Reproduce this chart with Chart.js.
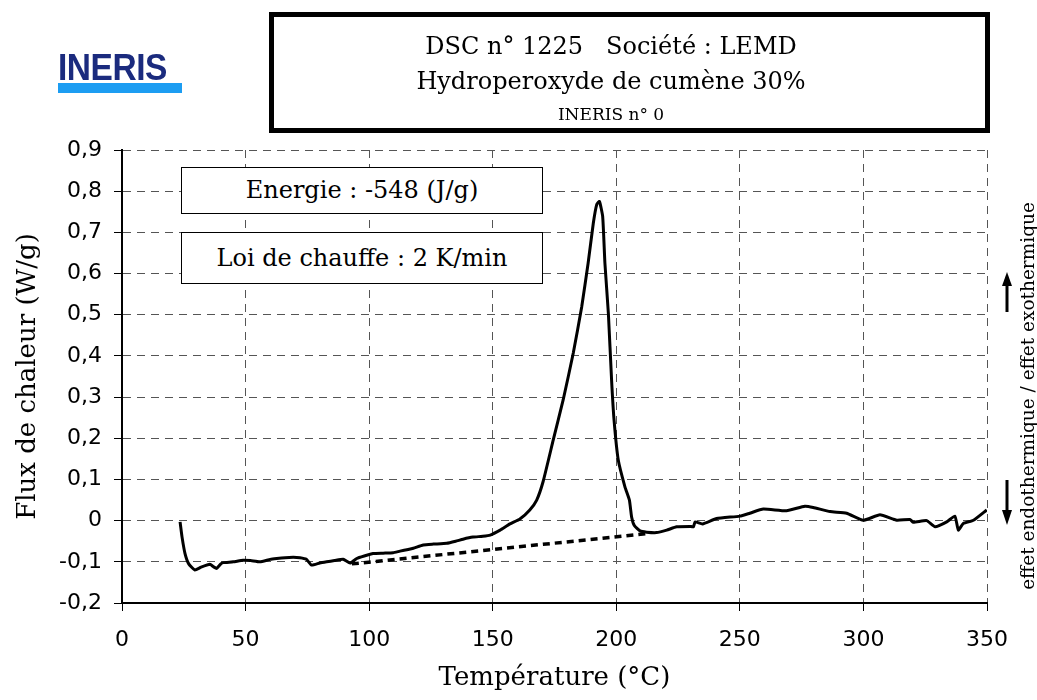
<!DOCTYPE html>
<html lang="fr">
<head>
<meta charset="utf-8">
<title>DSC n° 1225</title>
<script src="https://cdn.jsdelivr.net/npm/chart.js@4"></script>
<style>
  body { margin: 0; background: #fff; }
  #wrap { position: relative; width: 1037px; height: 700px; font-family: "DejaVu Serif", serif; color: #000; }
  #graphe { position: absolute; left: 0; top: 0; }
  .logo { position: absolute; left: 58px; top: 52px; width: 124px; }
  .logo span { display: block; font-family: "Liberation Sans", Arial, sans-serif; font-weight: bold; font-size: 36px; line-height: 31px; color: #1b2b7e; letter-spacing: -0.5px; transform: scaleX(0.93); transform-origin: left; }
  .logo div { height: 10px; background: #1c9df2; }
  .titre { position: absolute; left: 269px; top: 12px; width: 711px; height: 111px; border: 5px solid #000; }
  .titre p { position: absolute; left: 0; width: 674px; margin: 0; text-align: center; white-space: pre; line-height: 28px; }
  .boite { position: absolute; left: 181px; width: 360px; border: 1.5px solid #000; background: #fff; text-align: center; font-size: 24px; }
  .effet { position: absolute; left: 1027px; top: 396px; transform: translate(-50%, -50%) rotate(-90deg); white-space: nowrap; font-size: 18.5px; }
  svg { position: absolute; left: 0; top: 0; }
</style>
</head>
<body>
<div id="wrap">
  <canvas id="graphe" width="1037" height="700"></canvas>
  <div class="logo"><span>INERIS</span><div></div></div>
  <div class="titre">
    <p style="top:15px;font-size:24px;">DSC n° 1225   Société : LEMD</p>
    <p style="top:50px;font-size:24px;">Hydroperoxyde de cumène 30%</p>
    <p style="top:83px;font-size:17px;">INERIS n° 0</p>
  </div>
  <div class="boite" style="top:167px;height:45px;line-height:45px;">Energie : -548 (J/g)</div>
  <div class="boite" style="top:232px;height:50px;line-height:50px;">Loi de chauffe : 2 K/min</div>
  <div class="effet">effet endothermique / effet exothermique</div>
  <svg width="1037" height="700">
    <line x1="1007" y1="312" x2="1007" y2="284" stroke="#000" stroke-width="3"/>
    <polygon points="1002,286 1012,286 1007,272" fill="#000"/>
    <line x1="1007" y1="480" x2="1007" y2="512" stroke="#000" stroke-width="3"/>
    <polygon points="1002,510 1012,510 1007,525" fill="#000"/>
  </svg>
</div>
<script>
const temperature = [23.5, 24.3, 25.5, 27, 29.5, 32, 35.6, 37, 38.3, 40, 41, 45, 49, 52, 55.8, 60, 62.6, 66, 69.3, 72,
  74.6, 76.7, 80, 82.8, 86, 89.5, 92.3, 95, 98, 101.6, 105.7, 109.7, 112.5, 115.8, 117.9, 121.9, 126, 131.4, 135, 138,
  142, 146, 149, 153, 157, 161, 165, 167.8, 170.4, 174.5, 178.5, 182.6, 186, 188.6, 190.7, 192.1, 193.2, 194.5,
  195.4, 196.8, 198.1, 199.1, 200.8, 203.5, 205.3, 206.2, 207.3, 209.6, 212.3, 216.3, 220.4, 224.4, 229.8, 231.2, 231.9, 234.9, 240.6, 250,
  254, 259.5, 268.9, 276.3, 279.7, 286.5, 293.2, 299.9, 306.7, 313.5, 318.8, 320.2, 325.6, 329, 333.7, 337, 338.4, 340.4,
  344.5, 349.9];
const flux = [-0.003, -0.04, -0.08, -0.105, -0.12, -0.113, -0.106, -0.112, -0.116, -0.105, -0.102, -0.1, -0.096, -0.097, -0.1, -0.094, -0.092, -0.09, -0.089, -0.09,
  -0.094, -0.108, -0.103, -0.1, -0.097, -0.094, -0.103, -0.092, -0.086, -0.08, -0.079, -0.078, -0.074, -0.07, -0.067, -0.059, -0.057, -0.055, -0.05, -0.045,
  -0.04, -0.038, -0.035, -0.023, -0.008, 0.004, 0.026, 0.05, 0.095, 0.196, 0.293, 0.407, 0.519, 0.625, 0.722, 0.768, 0.775, 0.738,
  0.625, 0.503, 0.341, 0.244, 0.147, 0.082, 0.05, 0.009, -0.012, -0.025, -0.028, -0.029, -0.023, -0.015, -0.014, -0.015, -0.003, -0.008, 0.005, 0.011,
  0.018, 0.028, 0.024, 0.035, 0.032, 0.022, 0.018, 0.001, 0.014, 0.001, 0.003, -0.004, 0, -0.015, -0.003, 0.011, -0.023, -0.007,
  0.001, 0.026];

// ligne de base de l'intégration
const baseT = [93, 212];
const baseFlux = [-0.105, -0.032];

const ticksFlux = [-0.2, -0.1, 0, 0.1, 0.2, 0.3, 0.4, 0.5, 0.6, 0.7, 0.8, 0.9];

const police = '"DejaVu Serif", serif';
const policeTicks = '"DejaVu Sans", sans-serif';

function points(xs, ys) {
    return xs.map((x, i) => ({ x: x, y: ys[i] }));
}

const ctx = document.getElementById('graphe').getContext('2d');

new Chart(ctx, {
    type: 'scatter',
    data: {
        datasets: [{
            label: 'Flux',
            data: points(temperature, flux),
            showLine: true,
            borderColor: '#000',
            borderWidth: 3,
            pointRadius: 0,
            tension: 0.15
        }, {
            label: 'Ligne de base',
            data: points(baseT, baseFlux),
            showLine: true,
            borderColor: '#000',
            borderWidth: 3.5,
            borderDash: [7, 5],
            pointRadius: 0
        }]
    },
    options: {
        responsive: false,
        animation: false,
        layout: { padding: { top: 150, right: 50, left: 0, bottom: 0 } },
        plugins: {
            legend: { display: false },
            tooltip: { enabled: false }
        },
        scales: {
            x: {
                type: 'linear',
                min: 0,
                max: 350,
                afterFit: (s) => { s.height = 97; },
                ticks: {
                    stepSize: 50,
                    color: '#000',
                    padding: 16,
                    font: { family: policeTicks, size: 22 }
                },
                grid: { color: '#555', tickColor: '#000', tickLength: 8 },
                border: { display: true, color: '#000', width: 2, dash: [8, 6] },
                title: {
                    display: true,
                    text: 'Température (°C)',
                    color: '#000',
                    padding: { top: 0, bottom: 6 },
                    font: { family: police, size: 26 }
                }
            },
            y: {
                min: -0.2,
                max: 0.9,
                afterFit: (s) => { s.width = 122; },
                afterBuildTicks: (s) => { s.ticks = ticksFlux.map(v => ({ value: v })); },
                ticks: {
                    color: '#000',
                    padding: 12,
                    font: { family: policeTicks, size: 22 },
                    callback: (v) => Math.abs(v) < 1e-9 ? '0' : v.toFixed(1).replace('.', ',')
                },
                grid: { color: '#555', tickColor: '#000', tickLength: 8 },
                border: { display: true, color: '#000', width: 2, dash: [8, 6] },
                title: {
                    display: true,
                    text: 'Flux de chaleur (W/g)',
                    color: '#000',
                    padding: { top: 13, bottom: 0 },
                    font: { family: police, size: 26 }
                }
            }
        }
    }
});
</script>
</body>
</html>
